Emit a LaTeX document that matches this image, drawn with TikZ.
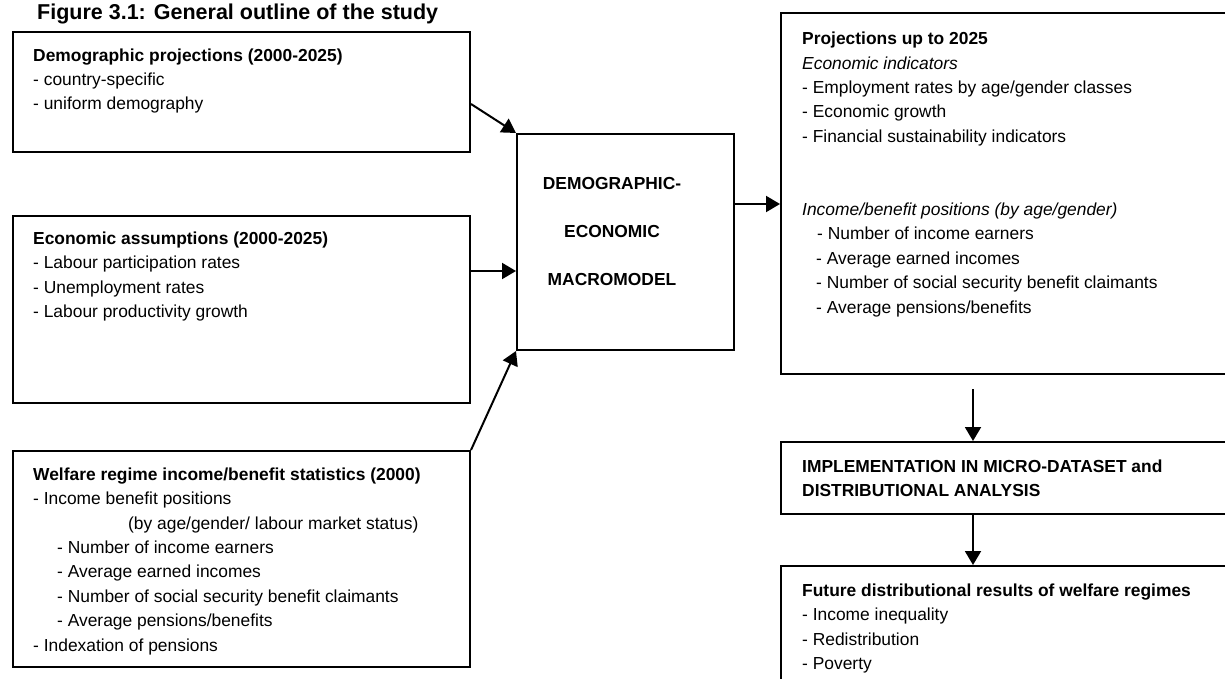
\documentclass[tikz,border=0pt]{standalone}
\usepackage{fontspec}
\setmainfont{Liberation Sans}
\usetikzlibrary{arrows.meta}
\begin{document}
\begin{tikzpicture}[x=1pt,y=-1pt,
  boxnode/.style={draw=black,line width=2pt,inner sep=0pt,anchor=north west},
  txt/.style={anchor=north west,inner sep=0pt,align=left,font=\fontsize{17.4}{24.4}\selectfont},
  arr/.style={line width=2pt,-{Triangle[length=14pt,width=16pt]}},
  ttl/.style={anchor=base west,inner sep=0pt,font=\fontsize{21.5}{24}\selectfont\bfseries}]
\useasboundingbox (0,0) rectangle (1225,679);
\clip (0,0) rectangle (1225,679);
\def\st{\rule{0pt}{18pt}}
% title
\node[ttl] (title) at (37,20) {Figure 3.1: General outline of the study};
% left boxes
\node[boxnode,minimum width=457pt,minimum height=120pt] (b1) at (12,31) {};
\node[txt] (t1) at (33,43) {\st\textbf{Demographic projections (2000-2025)}\\
- country-specific\\
- uniform demography};
\node[boxnode,minimum width=457pt,minimum height=187pt] (b2) at (12,215) {};
\node[txt] (t2) at (33,226) {\st\textbf{Economic assumptions (2000-2025)}\\
- Labour participation rates\\
- Unemployment rates\\
- Labour productivity growth};
\node[boxnode,minimum width=457pt,minimum height=216pt] (b3) at (12,450) {};
\node[txt] (t3) at (33,462) {\st\textbf{Welfare regime income/benefit statistics (2000)}\\
- Income benefit positions\\
\hspace*{95pt}(by age/gender/ labour market status)\\
\hspace*{24pt}- Number of income earners\\
\hspace*{24pt}- Average earned incomes\\
\hspace*{24pt}- Number of social security benefit claimants\\
\hspace*{24pt}- Average pensions/benefits\\
- Indexation of pensions};
% centre box
\node[boxnode,minimum width=217pt,minimum height=216pt] (m) at (516,133) {};
\node[anchor=north,inner sep=0pt,align=center,font=\fontsize{17.4}{48}\selectfont\bfseries] (mt) at (612,171)
  {\st DEMOGRAPHIC-\\ECONOMIC\\MACROMODEL};
% right boxes
\node[boxnode,minimum width=460pt,minimum height=361pt] (p) at (780,12) {};
\node[txt] (pt) at (802,26.5) {\st\textbf{Projections up to 2025}\\
\textit{Economic indicators}\\
- Employment rates by age/gender classes\\
- Economic growth\\
- Financial sustainability indicators\\
\\
\\
\textit{Income/benefit positions (by age/gender)}\\
\hspace*{15pt}- Number of income earners\\
\hspace*{14pt}- Average earned incomes\\
\hspace*{14pt}- Number of social security benefit claimants\\
\hspace*{14pt}- Average pensions/benefits};
\node[boxnode,minimum width=460pt,minimum height=72pt] (imp) at (780,441) {};
\node[txt] (it) at (802,454) {\st\textbf{IMPLEMENTATION IN MICRO-DATASET and}\\
\textbf{DISTRIBUTIONAL ANALYSIS}};
\node[boxnode,minimum width=460pt,minimum height=140pt] (fut) at (780,565) {};
\node[txt] (ft) at (802,578) {\st\textbf{Future distributional results of welfare regimes}\\
- Income inequality\\
- Redistribution\\
- Poverty};
% connectors
\coordinate (dx) at (973,0);
\draw[arr] ([yshift=-12pt]b1.east) -- (m.north west);
\draw[arr] ([yshift=-56pt]b2.north east) -- ([yshift=-56pt]b2.north east -| m.west);
\draw[arr] (b3.north east) -- (m.south west);
\draw[arr] ([yshift=-71pt]m.north east) -- ([yshift=-71pt]m.north east -| p.west);
\draw[arr] ([yshift=-14pt]p.south -| dx) -- (imp.north -| dx);
\draw[arr] (imp.south -| dx) -- (fut.north -| dx);
\end{tikzpicture}
\end{document}
